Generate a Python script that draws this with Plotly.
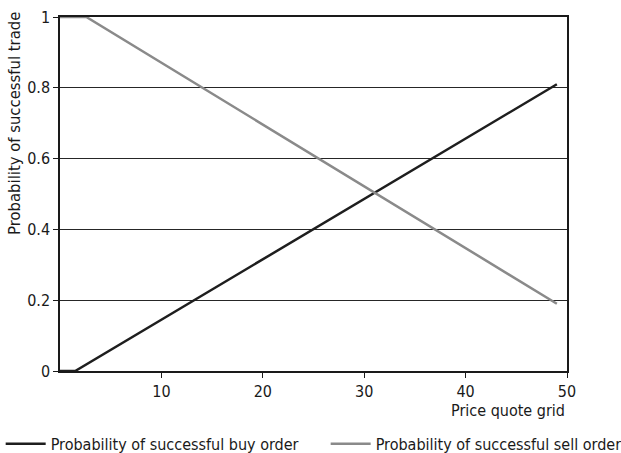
import plotly.graph_objects as go

# Price grid positions and success probabilities for each order type
buy_price = [0, 1.5, 49]
buy_prob = [0, 0, 0.81]
sell_price = [0, 2.6, 49]
sell_prob = [1, 1, 0.19]

x_ticks = [10, 20, 30, 40, 50]
y_ticks = [0, 0.2, 0.4, 0.6, 0.8, 1]
y_tick_text = ["0", "0.2", "0.4", "0.6", "0.8", "1"]

FONT = "DejaVu Sans Condensed, Liberation Sans Narrow, Liberation Sans, sans-serif"
INK = "#1a1a1a"

fig = go.Figure()
fig.add_trace(go.Scatter(
    x=buy_price, y=buy_prob, mode="lines",
    name="Probability of successful buy order",
    line=dict(color="#1e1e1e", width=2.5), legend="legend",
))
fig.add_trace(go.Scatter(
    x=sell_price, y=sell_prob, mode="lines",
    name="Probability of successful sell order",
    line=dict(color="#8a8a8a", width=2.5), legend="legend2",
))

legend_common = dict(
    orientation="h", y=-0.206, yanchor="middle", xanchor="left",
    font=dict(size=16), itemwidth=40, bgcolor="rgba(0,0,0,0)",
)

fig.update_layout(
    width=621, height=453,
    margin=dict(l=60, r=54, t=17, b=82, autoexpand=False),
    paper_bgcolor="white", plot_bgcolor="white",
    font=dict(family=FONT, size=16, color=INK),
    showlegend=True,
    legend=dict(x=-0.117, **legend_common),
    legend2=dict(x=0.524, **legend_common),
    xaxis=dict(
        range=[0, 50], tickvals=x_ticks, ticks="outside", ticklen=5,
        tickcolor=INK, showline=True, linecolor=INK, linewidth=1.5,
        mirror=True, showgrid=False, zeroline=False,
        tickfont=dict(size=16),
    ),
    yaxis=dict(
        range=[0, 1], tickvals=y_ticks, ticktext=y_tick_text, ticks="outside",
        ticklen=5, tickcolor=INK, showline=True, linecolor=INK,
        linewidth=1.5, mirror=True, showgrid=True, gridcolor="#262626",
        gridwidth=1.2, zeroline=False, tickfont=dict(size=16),
    ),
    annotations=[
        dict(text="Price quote grid", xref="paper", yref="paper", x=1, y=0,
             xanchor="right", yanchor="top", yshift=-28, showarrow=False,
             font=dict(size=16)),
        dict(text="Probability of successful trade", xref="paper", yref="paper",
             x=0, y=1.02, xanchor="right", yanchor="top", xshift=-34,
             textangle=-90, showarrow=False, font=dict(size=16.5)),
    ],
)

fig.write_html("out.html")
